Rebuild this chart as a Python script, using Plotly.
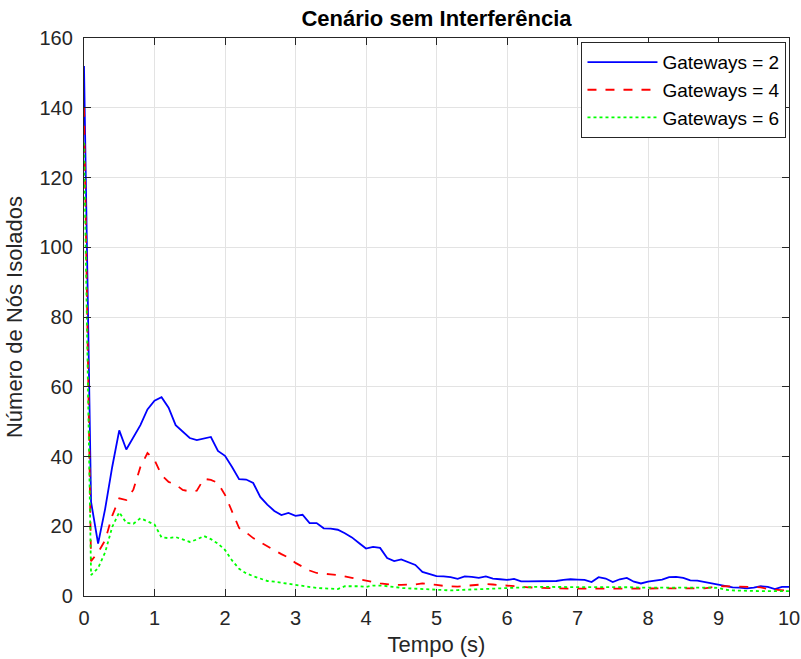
import plotly.graph_objects as go

tempo = [round(i * 0.1, 1) for i in range(101)]

gw2 = [152, 27, 15, 25, 37, 47.5, 42, 45.5, 49, 53.5,
       56, 57, 54, 49, 47, 45.3, 44.7, 45.2, 45.6, 41.6,
       40.2, 37, 33.5, 33.4, 32.4, 28.4, 26.2, 24.4, 23.2, 23.8,
       23, 23.3, 20.9, 20.9, 19.4, 19.3, 19, 18, 16.8, 15.2,
       13.6, 14.1, 13.8, 10.9, 10.0, 10.5, 9.8, 8.9, 6.9, 6.2,
       5.7, 5.6, 5.4, 4.9, 5.6, 5.5, 5.2, 5.6, 5.0, 4.8,
       4.6, 4.9, 4.2, 4.2, 4.2, 4.1, 4.1, 4.3, 4.6, 4.8,
       4.7, 4.6, 4.0, 5.4, 5.0, 4.0, 4.8, 5.2, 4.1, 3.6,
       4.1, 4.3, 4.7, 5.4, 5.5, 5.2, 4.5, 4.4, 4.0, 3.8,
       3.4, 2.8, 2.5, 2.4, 2.2, 2.4, 2.8, 2.6, 2.0, 2.6,
       2.6]

gw4 = [140, 10, 12.5, 16, 23, 28, 27.5, 30.5, 37, 41,
       39, 34.7, 32.7, 32, 30.4, 30, 30.2, 33.6, 33.3, 32.4,
       29, 24, 19.5, 18.2, 16.6, 15.4, 14.2, 13, 12, 11,
       9.5, 8.4, 7.3, 6.6, 6.3, 6.2, 6.0, 5.5, 5.2, 4.8,
       4.3, 4.0, 3.6, 3.3, 3.2, 3.2, 3.2, 3.3, 3.6, 3.5,
       3.2, 2.9, 2.8, 2.7, 2.9, 3.1, 3.2, 3.4, 3.3, 3.1,
       3.0, 2.8, 2.6, 2.5, 2.4, 2.3, 2.3, 2.2, 2.2, 2.1,
       2.1, 2.1, 2.1, 2.1, 2.1, 2.1, 2.1, 2.1, 2.1, 2.1,
       2.1, 2.1, 2.1, 2.1, 2.1, 2.1, 2.1, 2.1, 2.2, 2.5,
       2.8, 2.8, 2.8, 2.7, 2.6, 2.6, 2.5, 2.0, 1.8, 1.6,
       1.5]

gw6 = [130, 6, 8, 12.5, 19.8, 24, 21, 20.7, 22.3, 21.4,
       20.5, 16.8, 16.6, 16.9, 16.2, 15.5, 16.2, 17.2, 16.3, 15,
       13.2, 10.2, 7.8, 6.5, 5.7, 5, 4.3, 4.1, 3.8, 3.3,
       3.0, 2.7, 2.5, 2.3, 2.2, 2.1, 2.0, 2.8, 2.9, 2.8,
       2.6, 3.0, 3.0, 2.9, 2.6, 2.3, 2.2, 2.0, 1.9, 1.8,
       1.7, 1.6, 1.6, 1.7, 1.8, 1.9, 1.9, 2.0, 2.1, 2.2,
       2.3, 2.4, 2.5, 2.5, 2.6, 2.6, 2.6, 2.7, 2.7, 2.6,
       2.6, 2.5, 2.5, 2.6, 2.6, 2.5, 2.5, 2.5, 2.5, 2.4,
       2.4, 2.5, 2.5, 2.5, 2.6, 2.6, 2.5, 2.5, 2.4, 2.4,
       2.3, 1.8, 1.6, 1.5, 1.5, 1.5, 1.4, 1.4, 1.4, 1.4,
       1.4]

series = [
    ("Gateways = 2", gw2, "#0000ff", "solid"),
    ("Gateways = 4", gw4, "#ff0000", "dash"),
    ("Gateways = 6", gw6, "#00ff00", "dot"),
]

fig = go.Figure()
for name, vals, color, dash in series:
    fig.add_trace(go.Scatter(x=tempo, y=vals, mode="lines", name=name,
                             line=dict(color=color, width=1.8, dash=dash)))

axis_common = dict(showgrid=True, gridcolor="#e3e3e3", gridwidth=1,
                   showline=True, linecolor="#262626", linewidth=1.3,
                   mirror="ticks", ticks="inside", ticklen=7, tickcolor="#262626",
                   tickwidth=1.3, automargin=False,
                   zeroline=False, tickfont=dict(size=20, color="#262626"))

fig.update_layout(
    width=801, height=659,
    margin=dict(l=84, r=12, t=38, b=63),
    paper_bgcolor="white", plot_bgcolor="white",
    font=dict(family="Liberation Sans, Arial, sans-serif", color="#262626"),
    title=dict(text="<b>Cenário sem Interferência</b>", xref="paper", x=0.5, xanchor="center",
               y=0.972, yanchor="middle", font=dict(size=22, color="black")),
    xaxis=dict(range=[0, 10], dtick=1, ticklabelstandoff=4,
               title=dict(text="Tempo (s)", font=dict(size=22), standoff=8),
               **axis_common),
    yaxis=dict(range=[0, 160], dtick=20, ticklabelstandoff=6,
               title=dict(text="Número de Nós Isolados", font=dict(size=22), standoff=10),
               **axis_common),
    legend=dict(x=0.996, y=0.993, xanchor="right", yanchor="top",
                bgcolor="white", bordercolor="#262626", borderwidth=1.3,
                font=dict(size=19, color="black"), itemwidth=70,
                tracegroupgap=0),
    showlegend=True,
)

fig.write_html("out.html")
